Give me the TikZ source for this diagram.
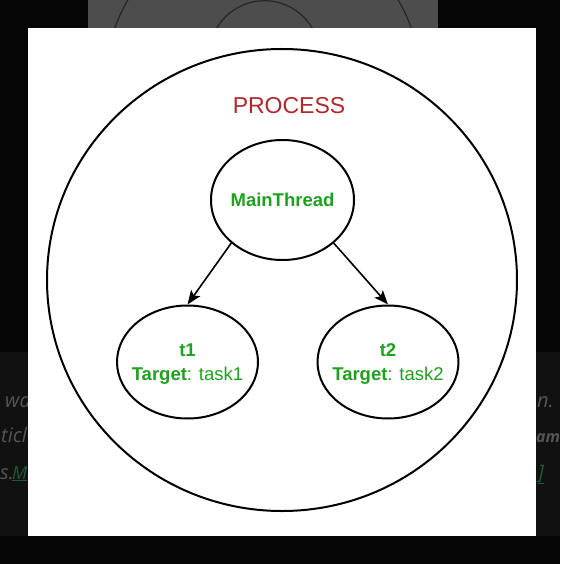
\documentclass[tikz,border=0pt]{standalone}
\usepackage{fontspec}
\setmainfont{Liberation Sans}
\newfontfamily\webfont{Open Sans}
\usetikzlibrary{shapes.geometric,arrows.meta}
\definecolor{pagebg}{HTML}{050505}
\definecolor{bandbg}{HTML}{111111}
\definecolor{dimgray}{HTML}{4D4D4D}
\definecolor{fadetext}{HTML}{555555}
\definecolor{fadegreen}{HTML}{1E5A34}
\definecolor{thgreen}{HTML}{1FA01F}
\definecolor{procred}{HTML}{B0282A}
\tikzset{
  thread/.style={draw=black, line width=2pt, ellipse, inner sep=0pt},
  thtext/.style={inner sep=0pt, align=center, text=thgreen,
    font=\fontsize{18.5}{24}\selectfont},
  arr/.style={line width=1.6pt, -{Stealth[length=14pt,width=11pt,inset=3pt]}},
  webtxt/.style={anchor=base west, inner sep=0pt, text=fadetext,
    font=\webfont\itshape\fontsize{20}{24}\selectfont},
}
\begin{document}
\begin{tikzpicture}[x=1pt,y=-1pt]
\useasboundingbox (0,0) rectangle (560,564);
% page background
\fill[pagebg] (0,0) rectangle (560,564);
\fill[bandbg] (0,352) rectangle (560,536);
% dimmed panel at top
\fill[dimgray] (88,0) rectangle (438,28);
\begin{scope}
  \clip (88,0) rectangle (438,28);
  \draw[black!85, line width=1.2pt] (263,80) circle[radius=157];
  \draw[black!85, line width=1.2pt] (264.5,56) circle[radius=55.3];
\end{scope}
% faded page text in the bands
\node[webtxt] (wl1) at (5,407) {wa};
\node[webtxt] (wl2) at (1,442) {ticl};
\node[webtxt] (wl3) at (0,479) {s.};
\node[webtxt, text=fadegreen, font=\webfont\itshape\fontsize{18}{24}\selectfont] (wl4) at (12,479) {\underline{M}};
\node[webtxt] (wr1) at (537,407) {n.};
\node[webtxt, font=\webfont\bfseries\itshape\fontsize{16}{24}\selectfont] (wr2) at (536,442) {am};
\node[webtxt, text=fadegreen] (wr3) at (538,479) {\underline{]}};
% white diagram panel
\fill[white] (28,28) rectangle (536,536);
% process circle
\node[draw=black, line width=2pt, ellipse, minimum width=470pt, minimum height=462pt, inner sep=0pt] (process) at (282,280) {};
\node[text=procred, font=\fontsize{23}{27}\selectfont, inner sep=0pt] (ptitle) at (289,106) {PROCESS};
% threads
\node[thread, minimum width=143pt, minimum height=120pt] (main) at (282.5,200) {};
\node[thread, minimum width=141pt, minimum height=113pt] (t1) at (187.5,362) {};
\node[thread, minimum width=141pt, minimum height=113pt] (t2) at (388,362) {};
\node[thtext] (maintxt) at (main.center) {\textbf{MainThread}};
\node[thtext, yshift=-2pt] (t1txt) at (t1.center) {\textbf{t1}\\\textbf{Target}: task1};
\node[thtext, yshift=-2pt] (t2txt) at (t2.center) {\textbf{t2}\\\textbf{Target}: task2};
\draw[arr] (main.south west) -- (t1.north);
\draw[arr] (main.south east) -- (t2.north);
\end{tikzpicture}
\end{document}
